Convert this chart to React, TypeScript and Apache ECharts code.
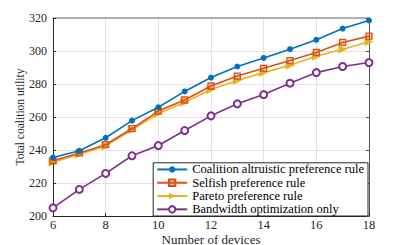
import React, { useEffect, useRef } from "react";
import * as echarts from "echarts";

const devices = [6, 7, 8, 9, 10, 11, 12, 13, 14, 15, 16, 17, 18];
const altruistic = [235.4, 239.5, 247.4, 257.8, 265.9, 275.5, 283.9, 290.6, 295.8, 301.1, 306.8, 313.6, 318.5];
const selfish = [233.5, 238.2, 243.2, 253.0, 263.6, 270.3, 278.8, 284.8, 289.5, 294.2, 299.1, 305.2, 309.0];
const pareto = [232.6, 237.5, 242.5, 252.2, 262.1, 268.9, 276.7, 282.1, 286.9, 291.4, 296.8, 301.1, 305.6];
const bandwidth = [204.9, 216.1, 225.8, 236.5, 242.7, 251.8, 260.7, 268.0, 273.6, 280.5, 286.9, 290.6, 293.0];

const seriesNames = [
  "Coalition altruistic preference rule",
  "Selfish preference rule",
  "Pareto preference rule",
  "Bandwidth optimization only",
];

const FONT = "Liberation Serif, Times New Roman, serif";
const AXIS = "#262626";

export default function App() {
  const ref = useRef<HTMLDivElement>(null);
  useEffect(() => {
    if (!ref.current) return;
    const chart = echarts.init(ref.current, undefined, { renderer: "svg" });
    const mk = (arr: number[]) => arr.map((v, i) => [devices[i], v]);
    chart.setOption({
      animation: false,
      backgroundColor: "#fff",
      textStyle: { fontFamily: FONT },
      grid: { left: 53, right: 40, top: 18, bottom: 29, containLabel: false, outerBoundsMode: "none" },
      xAxis: [
        {
          type: "value",
          min: 6,
          max: 18,
          interval: 2,
          name: "Number of devices",
          nameLocation: "middle",
          nameGap: 16.5,
          nameMoveOverlap: false,
          nameTextStyle: { fontFamily: FONT, fontSize: 13, color: "#262626", lineHeight: 13 },
          axisLine: { show: true, lineStyle: { color: AXIS, width: 1 } },
          axisTick: { show: true, inside: true, length: 3, lineStyle: { color: AXIS } },
          axisLabel: { fontFamily: FONT, fontSize: 12.5, color: "#262626", margin: 2, lineHeight: 13 },
          splitLine: { show: true, lineStyle: { color: "#e3e3e3", width: 1 } },
        },
        {
          type: "value",
          position: "top",
          min: 6,
          max: 18,
          interval: 2,
          axisLine: { show: true, lineStyle: { color: "#999", width: 1.5 } },
          axisTick: { show: false },
          axisLabel: { show: false },
          splitLine: { show: false },
        },
      ],
      yAxis: [
        {
          type: "value",
          min: 200,
          max: 320,
          interval: 20,
          name: "Total coalition utility",
          nameLocation: "middle",
          nameGap: 27,
          nameMoveOverlap: false,
          nameTextStyle: { fontFamily: FONT, fontSize: 11.5, color: "#262626" },
          axisLine: { show: true, lineStyle: { color: AXIS, width: 1 } },
          axisTick: { show: true, inside: true, length: 3, lineStyle: { color: AXIS } },
          axisLabel: { fontFamily: FONT, fontSize: 12, color: "#262626", margin: 6 },
          splitLine: { show: true, lineStyle: { color: "#e3e3e3", width: 1 } },
        },
        {
          type: "value",
          position: "right",
          min: 200,
          max: 320,
          interval: 20,
          axisLine: { show: true, lineStyle: { color: "#555", width: 1 } },
          axisTick: { show: true, inside: true, length: 3, lineStyle: { color: "#555" } },
          axisLabel: { show: false },
          splitLine: { show: false },
        },
      ],
      legend: {
        orient: "vertical",
        right: 41,
        bottom: 29,
        backgroundColor: "#fff",
        borderColor: AXIS,
        borderWidth: 1,
        borderRadius: 0,
        padding: [0, 4, 0, 3],
        itemGap: 0,
        itemWidth: 30,
        itemHeight: 8,
        textStyle: { fontFamily: FONT, fontSize: 12.5, color: "#000", lineHeight: 13.3 },
        data: seriesNames,
      },
      series: [
        {
          name: seriesNames[0],
          type: "line",
          data: mk(altruistic),
          symbol: "circle",
          symbolSize: 6,
          lineStyle: { color: "#0072BD", width: 1.6 },
          itemStyle: { color: "#0072BD" },
          z: 5,
        },
        {
          name: seriesNames[1],
          type: "line",
          data: mk(selfish),
          symbol: "rect",
          symbolSize: 6,
          lineStyle: { color: "#D95319", width: 1.6 },
          itemStyle: { color: "rgba(217,83,25,0.3)", borderColor: "#D95319", borderWidth: 1.3 },
          z: 4,
        },
        {
          name: seriesNames[2],
          type: "line",
          data: mk(pareto),
          symbol: "path://M0,0L10,5L0,10Z",
          symbolSize: [9, 9],
          lineStyle: { color: "#EDB120", width: 1.6 },
          itemStyle: { color: "#EDB120" },
          z: 3,
        },
        {
          name: seriesNames[3],
          type: "line",
          data: mk(bandwidth),
          symbol: "emptyCircle",
          symbolSize: 7,
          lineStyle: { color: "#7E2F8E", width: 1.6 },
          itemStyle: { color: "#7E2F8E", borderColor: "#7E2F8E", borderWidth: 1.6 },
          z: 2,
        },
      ],
    });
    return () => chart.dispose();
  }, []);
  return <div ref={ref} style={{ width: 409, height: 245, position: "absolute", left: 0, top: 0 }} />;
}
